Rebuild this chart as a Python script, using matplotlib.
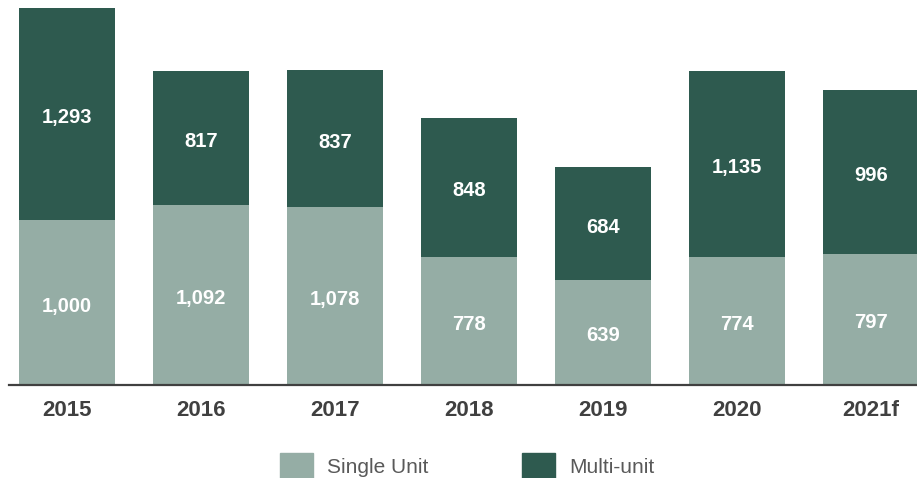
import matplotlib
matplotlib.use("Agg")
import matplotlib.pyplot as plt
from matplotlib.patches import Patch

years = ["2015", "2016", "2017", "2018", "2019", "2020", "2021f"]
single_unit = [1000, 1092, 1078, 778, 639, 774, 797]
multi_unit = [1293, 817, 837, 848, 684, 1135, 996]

c_single = "#95ADA5"
c_multi = "#2E5A4F"

plt.rcParams['font.family'] = ['Liberation Sans', 'DejaVu Sans']

fig = plt.figure(figsize=(9.17, 4.78), dpi=100)
ax = fig.add_axes([9/917, (478-384.5)/478, 908/917, 376.5/478])

x = list(range(len(years)))
w = 0.716
ax.bar(x, single_unit, width=w, color=c_single, label="Single Unit")
ax.bar(x, multi_unit, width=w, bottom=single_unit, color=c_multi, label="Multi-unit")

for i in x:
    s = single_unit[i]; m = multi_unit[i]
    for val, yc in ((s, s/2), (m, s + m/2)):
        ax.annotate(f"{val:,}", (i, yc), xytext=(0, -2.6), textcoords="offset points",
                    ha="center", va="center", color="white",
                    fontsize=14.5, fontweight="bold")

ax.set_xlim(-0.433, 6.343)
ax.set_ylim(0, 2293)
ax.set_xticks(x)
ax.set_xticklabels(years, fontsize=16, fontweight="bold", color="#404040")
ax.tick_params(axis="x", length=0, pad=11.5)
ax.set_yticks([])
for s in ["top", "left", "right"]:
    ax.spines[s].set_visible(False)
ax.spines["bottom"].set_color("#404040")
ax.spines["bottom"].set_linewidth(1.6)

handles = [Patch(color=c_single, label="Single Unit"), Patch(color=c_multi, label="Multi-unit")]
leg = fig.legend(handles=handles, loc="center", bbox_to_anchor=(467/917, 1 - 466/478),
                 ncol=2, frameon=False, fontsize=15, handlelength=1.6, handleheight=1.6,
                 handletextpad=0.65, columnspacing=4.5)
for t in leg.get_texts():
    t.set_color("#595959")

fig.savefig("out.png", dpi=100)
